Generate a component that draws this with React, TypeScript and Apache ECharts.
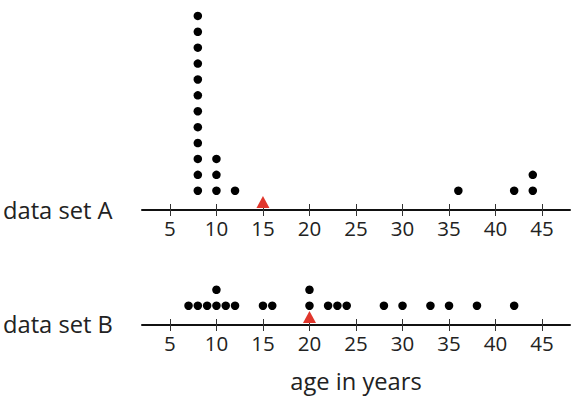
import React, { useEffect, useRef } from "react";
import * as echarts from "echarts";

const tickValues = [5, 10, 15, 20, 25, 30, 35, 40, 45];
const setA = [8, 8, 8, 8, 8, 8, 8, 8, 8, 8, 8, 8, 10, 10, 10, 12, 36, 42, 44, 44];
const setB = [7, 8, 9, 10, 10, 11, 12, 15, 16, 20, 20, 22, 23, 24, 28, 30, 33, 35, 38, 42];
const markerA = 15;
const markerB = 20;
const rowLabels = ["data set A", "data set B"];
const axisTitle = "age in years";

const FONT = "'Open Sans', 'Noto Sans', sans-serif";
const Y_MIN = -1.214;

function stack(values: number[]): number[][] {
  const counts: Record<number, number> = {};
  return values.map((v) => {
    const k = counts[v] || 0;
    counts[v] = k + 1;
    return [v, k];
  });
}

export default function App() {
  const ref = useRef<HTMLDivElement>(null);
  useEffect(() => {
    if (!ref.current) return;
    const chart = echarts.init(ref.current, undefined, { renderer: "svg" });
    const xBase = (gridIndex: number, labels: boolean) => ({
      type: "value" as const,
      gridIndex,
      position: "bottom" as const,
      offset: 0,
      min: 2,
      max: 48,
      splitLine: { show: false },
      axisLine: labels
        ? { show: true, onZero: false, lineStyle: { color: "#111", width: 2 } }
        : { show: false, onZero: false },
      axisTick: {
        show: true,
        inside: !labels,
        length: 6,
        customValues: tickValues,
        lineStyle: { color: "#333", width: 1 },
      },
      axisLabel: labels
        ? {
            show: true,
            customValues: tickValues,
            margin: 7,
            fontSize: 20.5,
            fontFamily: FONT,
            color: "#222",
          }
        : { show: false },
    });
    const yBase = (gridIndex: number, max: number) => ({
      type: "value" as const,
      gridIndex,
      min: Y_MIN,
      max,
      show: false,
    });
    const dot = (data: number[][], xAxisIndex: number, yAxisIndex: number) => ({
      type: "scatter" as const,
      xAxisIndex,
      yAxisIndex,
      data,
      symbol: "circle",
      symbolSize: 8.5,
      itemStyle: { color: "#000", opacity: 1 },
      silent: true,
    });
    const tri = (x: number, xAxisIndex: number, yAxisIndex: number) => ({
      type: "scatter" as const,
      xAxisIndex,
      yAxisIndex,
      data: [[x, Y_MIN]],
      symbol: "triangle",
      symbolSize: [13, 12],
      symbolOffset: [0, -8],
      itemStyle: { color: "#e0362c", opacity: 1 },
      silent: true,
      z: 5,
    });
    chart.setOption({
      animation: false,
      grid: [
        { left: 142, right: 5, top: 0, height: 210 },
        { left: 142, right: 5, top: 250, height: 75 },
      ],
      xAxis: [xBase(0, true), xBase(0, false), xBase(1, true), xBase(1, false)],
      yAxis: [yBase(0, 12), yBase(1, Y_MIN + 75 / 15.9)],
      series: [
        dot(stack(setA), 0, 0),
        dot(stack(setB), 2, 1),
        tri(markerA, 0, 0),
        tri(markerB, 2, 1),
      ],
      graphic: [
        {
          type: "text",
          x: 3,
          y: 210,
          style: { text: rowLabels[0], fontSize: 23.7, fontFamily: FONT, fill: "#222", verticalAlign: "middle" },
        },
        {
          type: "text",
          x: 3,
          y: 324,
          style: { text: rowLabels[1], fontSize: 23.7, fontFamily: FONT, fill: "#222", verticalAlign: "middle" },
        },
        {
          type: "text",
          x: 356,
          y: 381,
          style: {
            text: axisTitle,
            fontSize: 23.7,
            fontFamily: FONT,
            fill: "#222",
            align: "center",
            verticalAlign: "middle",
          },
        },
      ],
    });
    return () => chart.dispose();
  }, []);
  return (
    <div
      ref={ref}
      style={{ position: "fixed", left: 0, top: 0, width: 575, height: 398, background: "#fff" }}
    />
  );
}
